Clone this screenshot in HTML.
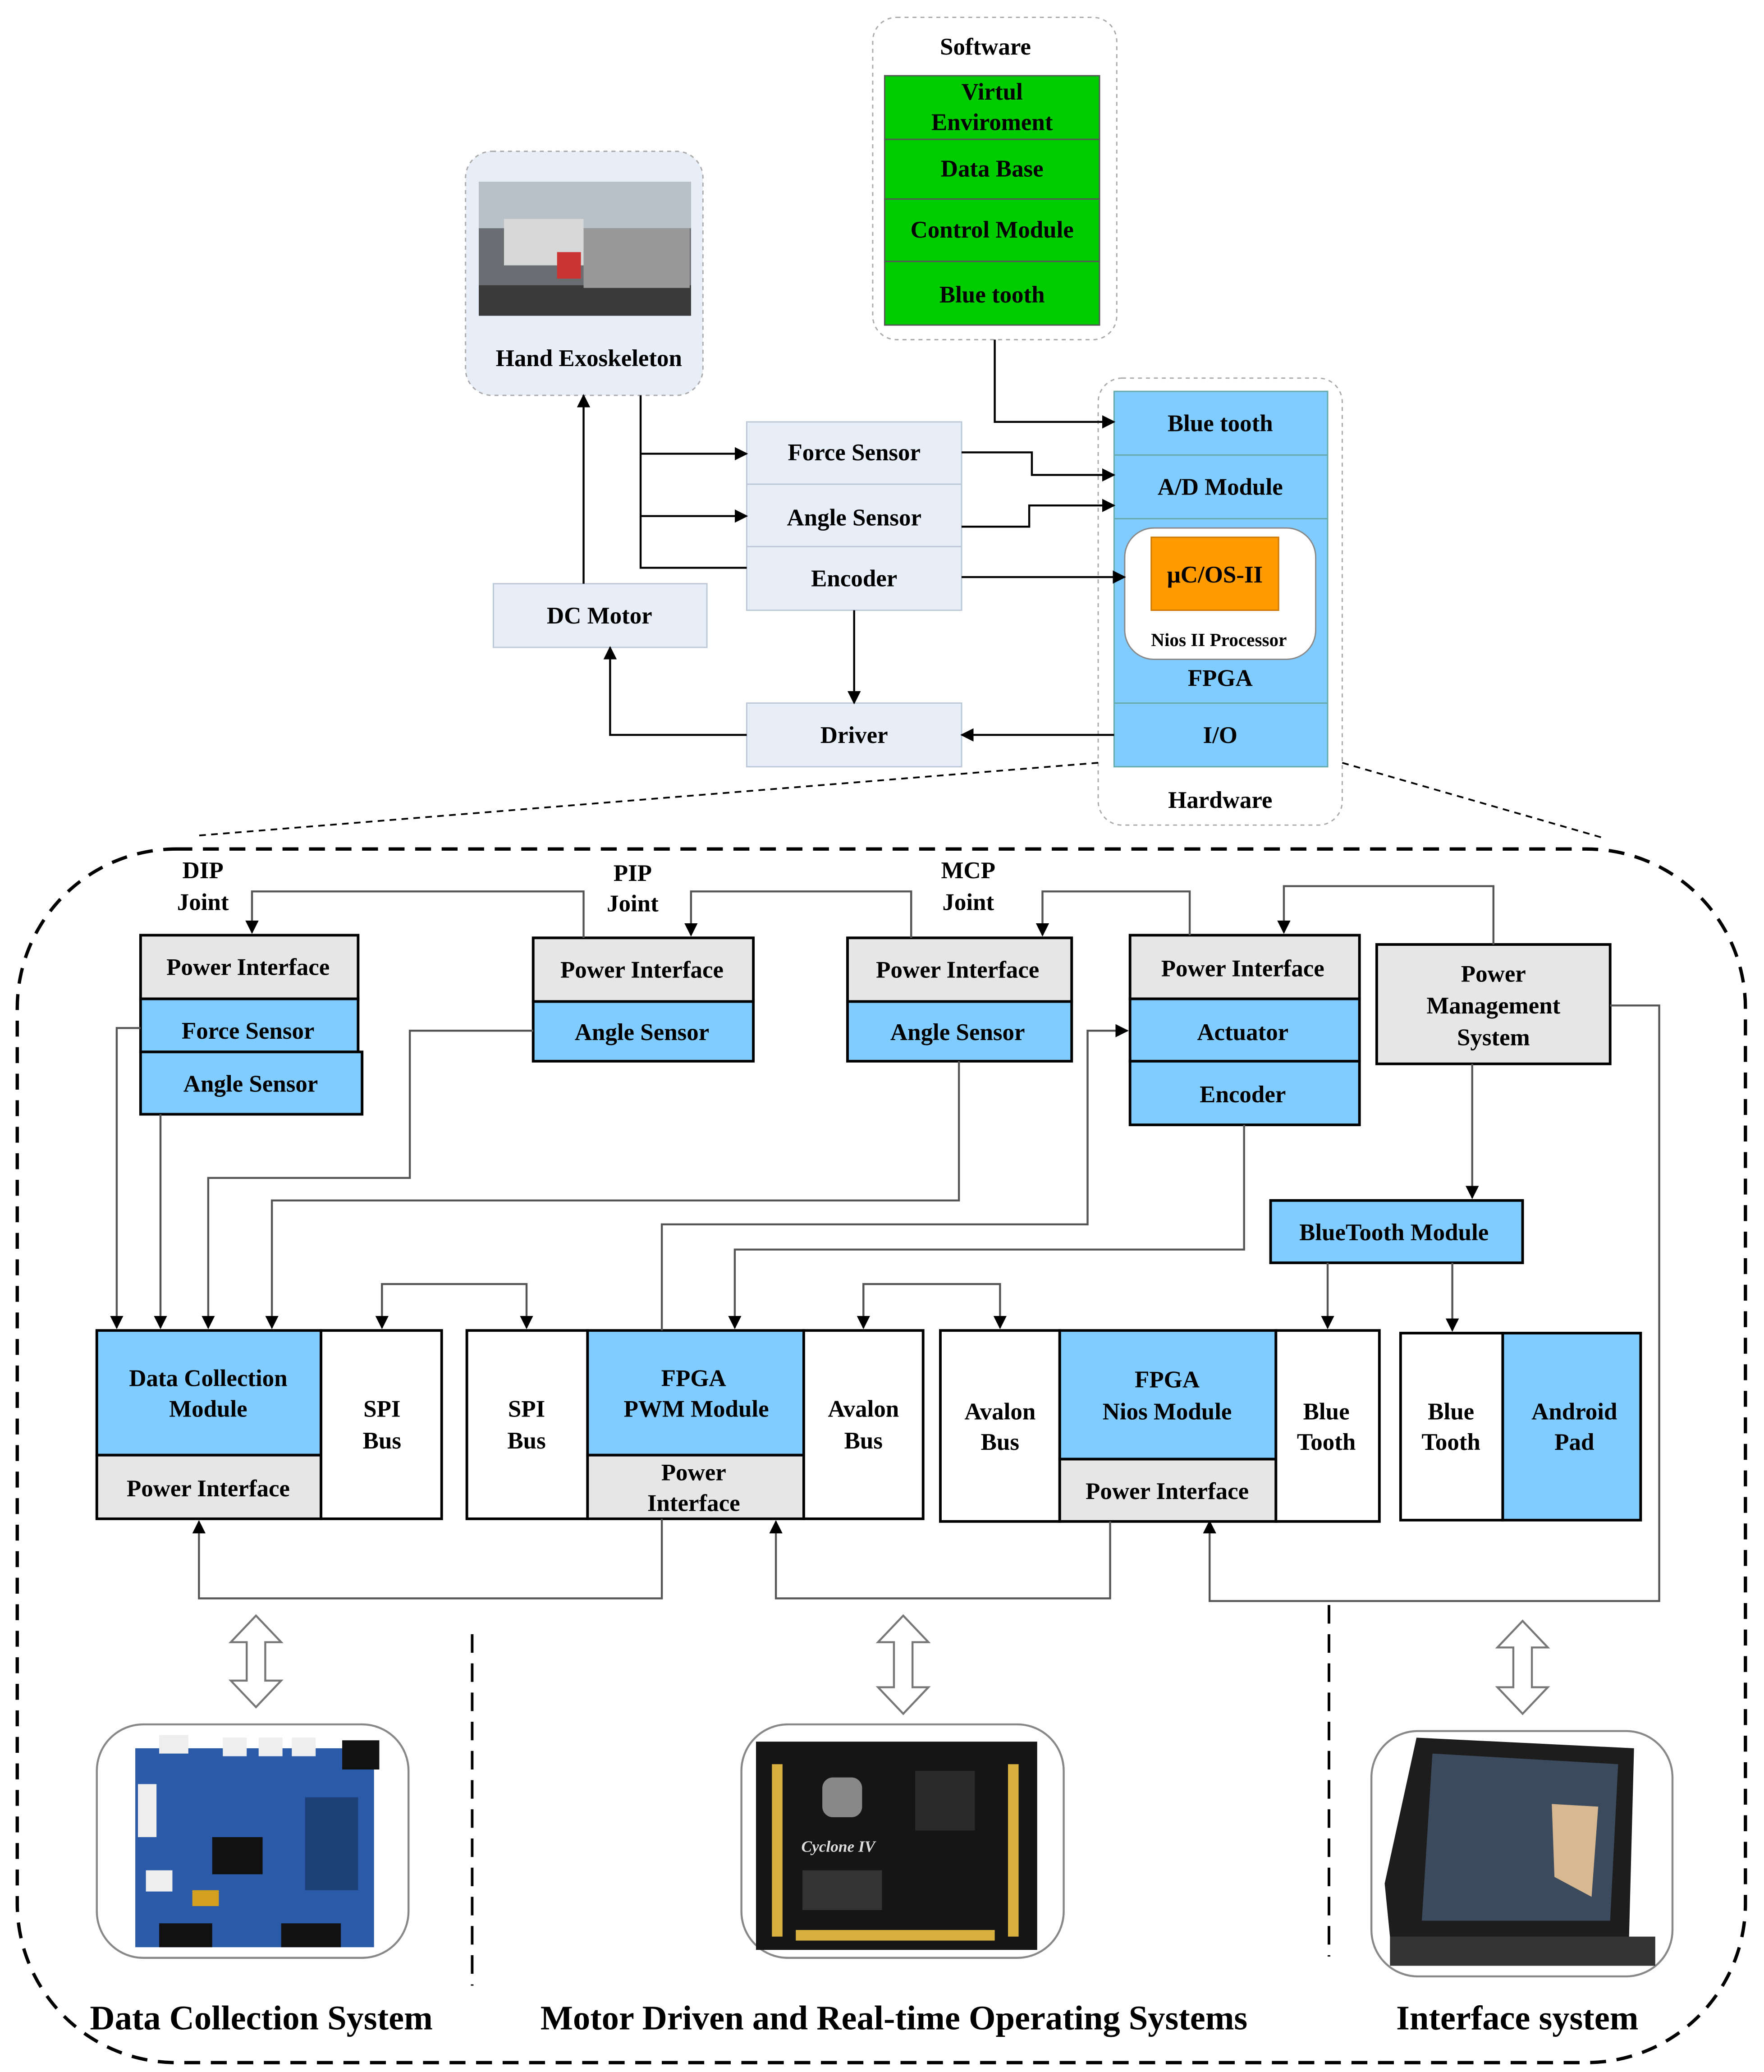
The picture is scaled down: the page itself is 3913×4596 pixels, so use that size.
<!DOCTYPE html>
<html><head><meta charset="utf-8"><style>
html,body{margin:0;padding:0;background:#fff}
svg{display:block}
text{font-family:"Liberation Serif",serif;font-weight:bold;fill:#000}
</style></head><body>
<svg width="3913" height="4596" viewBox="0 0 1330 1562" xmlns="http://www.w3.org/2000/svg">
<defs>
<marker id="a" markerWidth="10" markerHeight="10" refX="9" refY="5" orient="auto" markerUnits="userSpaceOnUse"><path d="M0,0 L10,5 L0,10 z" fill="#000"/></marker>
</defs>
<g font-size="18" text-anchor="middle">
<!-- Software -->
<rect x="658" y="13" width="184" height="243" rx="18" fill="#fff" stroke="#aaa" stroke-dasharray="3,3"/>
<text x="743" y="41">Software</text>
<g stroke="#555" fill="#00cc00">
<rect x="667" y="57" width="162" height="48"/><rect x="667" y="105" width="162" height="45"/>
<rect x="667" y="150" width="162" height="47"/><rect x="667" y="197" width="162" height="48"/></g>
<text x="748" y="75">Virtul</text><text x="748" y="98">Enviroment</text>
<text x="748" y="133">Data Base</text><text x="748" y="179">Control Module</text><text x="748" y="228">Blue tooth</text>
<!-- Hand exo -->
<rect x="351" y="114" width="179" height="184" rx="20" fill="#e8eef8" stroke="#aaa" stroke-dasharray="3,3"/>
<rect x="361" y="137" width="160" height="101" fill="#6a6e72"/>
<rect x="361" y="137" width="160" height="35" fill="#b8c0c8"/>
<rect x="361" y="215" width="160" height="23" fill="#3a3a3a"/>
<rect x="440" y="172" width="80" height="45" fill="#999"/>
<rect x="380" y="165" width="60" height="35" fill="#d8d8d8"/>
<rect x="420" y="190" width="18" height="20" fill="#c33"/>
<text x="444" y="276">Hand Exoskeleton</text>
<!-- Hardware -->
<rect x="828" y="285" width="184" height="337" rx="18" fill="#fff" stroke="#aaa" stroke-dasharray="3,3"/>
<g stroke="#6aa" fill="#80ccff">
<rect x="840" y="295" width="161" height="48"/><rect x="840" y="343" width="161" height="48"/>
<rect x="840" y="391" width="161" height="139"/><rect x="840" y="530" width="161" height="48"/></g>
<rect x="848" y="398" width="144" height="99" rx="22" fill="#fff" stroke="#888"/>
<rect x="868" y="405" width="96" height="55" fill="#ff9a00" stroke="#c70"/>
<text x="920" y="325">Blue tooth</text><text x="920" y="373">A/D Module</text>
<text x="916" y="439">μC/OS-II</text>
<text x="919" y="487" font-size="14">Nios II  Processor</text>
<text x="920" y="517">FPGA</text><text x="920" y="560">I/O</text>
<text x="920" y="609">Hardware</text>
<!-- sensors -->
<g stroke="#bcc8d8" fill="#e8eef8">
<rect x="563" y="318" width="162" height="47"/><rect x="563" y="365" width="162" height="47"/>
<rect x="563" y="412" width="162" height="48"/><rect x="372" y="440" width="161" height="48"/>
<rect x="563" y="530" width="162" height="48"/></g>
<text x="644" y="347">Force Sensor</text><text x="644" y="396">Angle Sensor</text>
<text x="644" y="442">Encoder</text><text x="452" y="470">DC Motor</text><text x="644" y="560">Driver</text>
<g stroke="#000" stroke-width="1.5" fill="none">
<path d="M750,256 V318 H840" marker-end="url(#a)"/>
<path d="M483,298 V428 H563"/>
<path d="M483,342 H563" marker-end="url(#a)"/>
<path d="M483,389 H563" marker-end="url(#a)"/>
<path d="M440,440 V298" marker-end="url(#a)"/>
<path d="M725,341 H778 V358 H840" marker-end="url(#a)"/>
<path d="M725,397 H776 V381 H840" marker-end="url(#a)"/>
<path d="M725,435 H848" marker-end="url(#a)"/>
<path d="M644,460 V530" marker-end="url(#a)"/>
<path d="M840,554 H725" marker-end="url(#a)"/>
<path d="M563,554 H460 V488" marker-end="url(#a)"/>
</g>
<g stroke="#000" stroke-width="1.3" stroke-dasharray="5,4" fill="none">
<path d="M828,575 L148,630"/><path d="M1012,575 L1210,632"/></g>
<rect x="13" y="640" width="1303" height="915" rx="120" fill="none" stroke="#000" stroke-width="2.5" stroke-dasharray="12,8"/>
<!-- joints -->
<text x="153" y="662">DIP</text><text x="153" y="686">Joint</text>
<text x="477" y="664">PIP</text><text x="477" y="687">Joint</text>
<text x="730" y="662">MCP</text><text x="730" y="686">Joint</text>
<g stroke="#000" stroke-width="2">
<g fill="#e6e6e6"><rect x="106" y="705" width="164" height="48"/><rect x="402" y="707" width="166" height="48"/>
<rect x="639" y="707" width="169" height="48"/><rect x="852" y="705" width="173" height="48"/>
<rect x="1038" y="712" width="176" height="90"/></g>
<g fill="#80ccff"><rect x="106" y="753" width="164" height="40"/><rect x="106" y="793" width="167" height="47"/>
<rect x="402" y="755" width="166" height="45"/><rect x="639" y="755" width="169" height="45"/>
<rect x="852" y="753" width="173" height="47"/><rect x="852" y="800" width="173" height="48"/>
<rect x="958" y="905" width="190" height="47"/></g>
</g>
<text x="187" y="735">Power Interface</text><text x="187" y="783">Force Sensor</text><text x="189" y="823">Angle Sensor</text>
<text x="484" y="737">Power Interface</text><text x="484" y="784">Angle Sensor</text>
<text x="722" y="737">Power Interface</text><text x="722" y="784">Angle Sensor</text>
<text x="937" y="736">Power Interface</text><text x="937" y="784">Actuator</text><text x="937" y="831">Encoder</text>
<text x="1126" y="740">Power</text><text x="1126" y="764">Management</text><text x="1126" y="788">System</text>
<text x="1051" y="935">BlueTooth Module</text>
<!-- bottom row -->
<g stroke="#000" stroke-width="2">
<rect x="242" y="1003" width="91" height="142" fill="#fff"/>
<rect x="73" y="1003" width="169" height="94" fill="#80ccff"/><rect x="73" y="1097" width="169" height="48" fill="#e6e6e6"/>
<rect x="352" y="1003" width="91" height="142" fill="#fff"/>
<rect x="443" y="1003" width="163" height="94" fill="#80ccff"/><rect x="443" y="1097" width="163" height="48" fill="#e6e6e6"/>
<rect x="606" y="1003" width="90" height="142" fill="#fff"/>
<rect x="709" y="1003" width="90" height="144" fill="#fff"/>
<rect x="799" y="1003" width="163" height="97" fill="#80ccff"/><rect x="799" y="1100" width="163" height="47" fill="#e6e6e6"/>
<rect x="962" y="1003" width="78" height="144" fill="#fff"/>
<rect x="1056" y="1005" width="77" height="141" fill="#fff"/><rect x="1133" y="1005" width="104" height="141" fill="#80ccff"/>
</g>
<text x="157" y="1045">Data Collection</text><text x="157" y="1068">Module</text>
<text x="157" y="1128">Power Interface</text>
<text x="288" y="1068">SPI</text><text x="288" y="1092">Bus</text>
<text x="397" y="1068">SPI</text><text x="397" y="1092">Bus</text>
<text x="523" y="1045">FPGA</text><text x="525" y="1068">PWM Module</text>
<text x="523" y="1116">Power</text><text x="523" y="1139">Interface</text>
<text x="651" y="1068">Avalon</text><text x="651" y="1092">Bus</text>
<text x="754" y="1070">Avalon</text><text x="754" y="1093">Bus</text>
<text x="880" y="1046">FPGA</text><text x="880" y="1070">Nios Module</text>
<text x="880" y="1130">Power Interface</text>
<text x="1000" y="1070">Blue</text><text x="1000" y="1093">Tooth</text>
<text x="1094" y="1070">Blue</text><text x="1094" y="1093">Tooth</text>
<text x="1187" y="1070">Android</text><text x="1187" y="1093">Pad</text>
<!-- connectors lower -->
<g stroke="#555" stroke-width="1.5" fill="none">
<path d="M440,707 V672 H190 V703" marker-end="url(#a)"/>
<path d="M687,707 V672 H521 V705" marker-end="url(#a)"/>
<path d="M897,705 V672 H786 V705" marker-end="url(#a)"/>
<path d="M1126,712 V668 H968 V703" marker-end="url(#a)"/>
<path d="M1110,802 V903" marker-end="url(#a)"/>
<path d="M1214,758 H1251 V1207 H912 V1147" marker-end="url(#a)"/>
<path d="M106,775 H88 V1001" marker-end="url(#a)"/>
<path d="M121,840 V1001" marker-end="url(#a)"/>
<path d="M402,777 H309 V888 H157 V1001" marker-end="url(#a)"/>
<path d="M723,800 V905 H205 V1001" marker-end="url(#a)"/>
<path d="M288,1001 V968 H397 V1001" marker-end="url(#a)"/>
<path d="M397,968 H288 V1001" marker-end="url(#a)"/>
<path d="M499,1003 V923 H820 V777 H850" marker-end="url(#a)"/>
<path d="M938,848 V942 H554 V1001" marker-end="url(#a)"/>
<path d="M651,1001 V968 H754 V1001" marker-end="url(#a)"/>
<path d="M754,968 H651 V1001" marker-end="url(#a)"/>
<path d="M1001,952 V1001" marker-end="url(#a)"/>
<path d="M1095,952 V1003" marker-end="url(#a)"/>
<path d="M499,1145 V1205 H150 V1147" marker-end="url(#a)"/>
<path d="M837,1147 V1205 H585 V1147" marker-end="url(#a)"/>
</g>
<!-- hollow double arrows -->
<g fill="#fff" stroke="#777" stroke-width="1.5">
<path d="M193,1218 L212,1238 H200 V1267 H212 L193,1287 L174,1267 H186 V1238 H174 Z"/>
<path d="M681,1218 L700,1238 H688 V1272 H700 L681,1292 L662,1272 H674 V1238 H662 Z"/>
<path d="M1148,1222 L1167,1242 H1155 V1272 H1167 L1148,1292 L1129,1272 H1141 V1242 H1129 Z"/>
</g>
<g stroke="#000" stroke-width="2" stroke-dasharray="14,8"><path d="M356,1232 V1497"/><path d="M1002,1210 V1475"/></g>
<!-- photos -->
<g fill="#fff" stroke="#888" stroke-width="1.5">
<rect x="73" y="1300" width="235" height="176" rx="35"/><rect x="559" y="1300" width="243" height="176" rx="35"/>
<rect x="1034" y="1305" width="227" height="185" rx="35"/></g>
<!-- data board -->
<rect x="102" y="1318" width="180" height="150" fill="#2a5aa8"/>
<g fill="#eee"><rect x="120" y="1308" width="22" height="14"/><rect x="168" y="1310" width="18" height="14"/><rect x="195" y="1310" width="18" height="14"/><rect x="220" y="1310" width="18" height="14"/><rect x="104" y="1345" width="14" height="40"/><rect x="110" y="1410" width="20" height="16"/></g>
<rect x="258" y="1312" width="28" height="22" fill="#111"/>
<rect x="160" y="1385" width="38" height="28" fill="#111"/>
<rect x="230" y="1355" width="40" height="70" fill="#1c3f78"/>
<rect x="120" y="1450" width="40" height="18" fill="#111"/><rect x="212" y="1450" width="45" height="18" fill="#111"/>
<rect x="145" y="1425" width="20" height="12" fill="#d4a020"/>
<!-- fpga board -->
<rect x="570" y="1313" width="212" height="157" fill="#151515"/>
<g fill="#d8b040"><rect x="582" y="1330" width="8" height="130"/><rect x="760" y="1330" width="8" height="130"/><rect x="600" y="1455" width="150" height="8"/></g>
<rect x="690" y="1335" width="45" height="45" fill="#2a2a2a"/>
<rect x="620" y="1340" width="30" height="30" fill="#888" rx="8"/>
<rect x="605" y="1410" width="60" height="30" fill="#333"/>
<text x="632" y="1396" font-size="12" fill="#ddd" style="fill:#ddd;font-style:italic">Cyclone IV</text>
<!-- tablet -->
<polygon points="1068,1310 1232,1318 1228,1470 1050,1480 1044,1420" fill="#1d1d1d"/>
<polygon points="1080,1322 1220,1330 1214,1448 1072,1448" fill="#3b4a5c"/>
<polygon points="1170,1360 1205,1362 1200,1430 1172,1415" fill="#d8b890"/>
<rect x="1048" y="1460" width="200" height="22" fill="#333"/>
<text x="197" y="1530" font-size="26">Data Collection System</text>
<text x="674" y="1530" font-size="26">Motor Driven and Real-time Operating Systems</text>
<text x="1144" y="1530" font-size="26">Interface system</text>
</g>
</svg>
</body></html>
